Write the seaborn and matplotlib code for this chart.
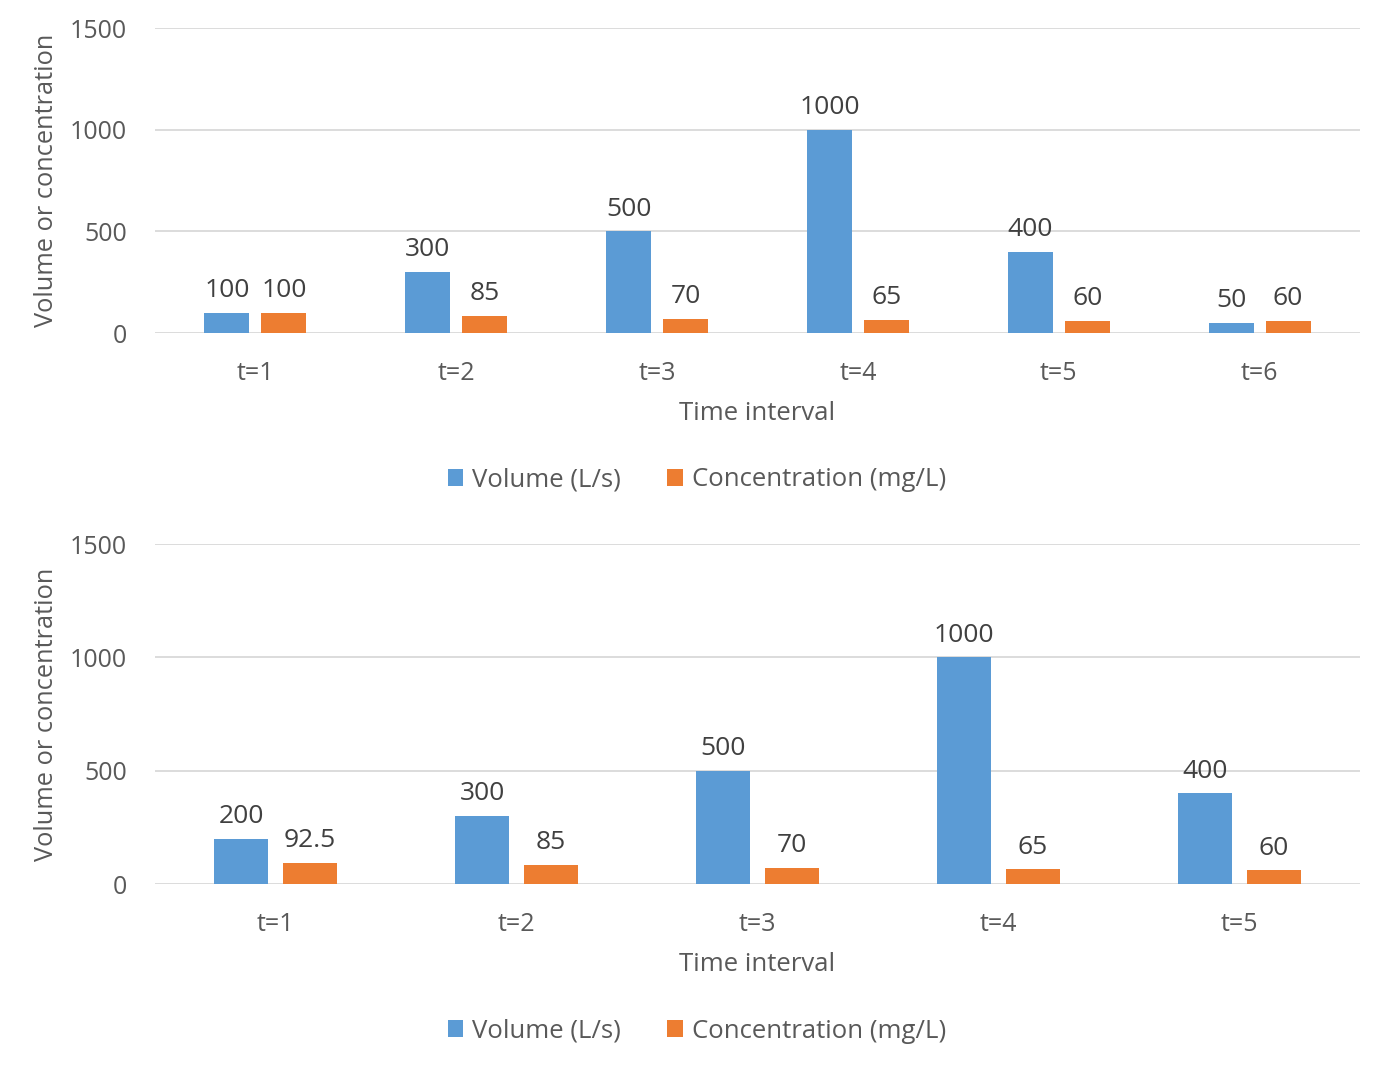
import matplotlib
matplotlib.use("Agg")
import matplotlib.pyplot as plt
import seaborn as sns
import pandas as pd
from matplotlib.patches import Patch

# Data
top_categories = ["t=1", "t=2", "t=3", "t=4", "t=5", "t=6"]
top_volume = [100, 300, 500, 1000, 400, 50]
top_conc = [100, 85, 70, 65, 60, 60]

bot_categories = ["t=1", "t=2", "t=3", "t=4", "t=5"]
bot_volume = [200, 300, 500, 1000, 400]
bot_conc = [92.5, 85, 70, 65, 60]

series_names = ["Volume (L/s)", "Concentration (mg/L)"]
y_ticks = [0, 500, 1000, 1500]
colors = ["#5B9BD5", "#ED7D31"]

sns.set_theme(style="white")
plt.rcParams['font.family'] = ['Open Sans', 'DejaVu Sans']

W, H = 1382, 1067
fig = plt.figure(figsize=(W / 100, H / 100), dpi=100)

def ax_rect(x0, x1, ytop, ybot):
    return [x0 / W, 1 - ybot / H, (x1 - x0) / W, (ybot - ytop) / H]

def draw(ax, cats, vol, conc, legend_y):
    df = pd.DataFrame({
        "cat": cats * 2,
        "val": list(vol) + list(conc),
        "series": [series_names[0]] * len(cats) + [series_names[1]] * len(cats),
    })
    sns.barplot(data=df, x="cat", y="val", hue="series", palette=colors,
                width=0.568, gap=0.211, ax=ax, legend=False, saturation=1,
                edgecolor="none")
    ax.set_ylim(0, 1500)
    ax.set_xlim(-0.5, len(cats) - 0.5)
    ax.set_yticks(y_ticks)
    ax.set_yticklabels([str(t) for t in y_ticks])
    for s in ax.spines.values():
        s.set_visible(False)
    ax.yaxis.grid(True, color="#D9D9D9", linewidth=1.3)
    ax.set_axisbelow(True)
    ax.tick_params(axis="both", length=0, labelsize=18, colors="#595959")
    ax.tick_params(axis="y", pad=20)
    ax.tick_params(axis="x", pad=20)
    ax.set_xlabel("Time interval", fontsize=18.5, color="#595959", labelpad=11)
    ax.set_ylabel("Volume or concentration", fontsize=18.3, color="#595959", labelpad=8)
    for cont in ax.containers:
        labels = [("%g" % b.get_height()) for b in cont]
        ax.bar_label(cont, labels=labels, padding=7, fontsize=19, color="#404040")
    handles = [Patch(facecolor=c, edgecolor="none") for c in colors]
    fig.legend(handles, series_names, loc="center", bbox_to_anchor=(697 / W, 1 - (legend_y + 1) / H),
               ncol=2, frameon=False, fontsize=18.5, labelcolor="#595959",
               handlelength=0.6, handleheight=0.6, handletextpad=0.35, columnspacing=1.8)

ax1 = fig.add_axes(ax_rect(155, 1360, 28, 333))
draw(ax1, top_categories, top_volume, top_conc, 479)
ax2 = fig.add_axes(ax_rect(155, 1360, 544, 884))
draw(ax2, bot_categories, bot_volume, bot_conc, 1030)

fig.savefig("out.png", dpi=100, facecolor="white")
